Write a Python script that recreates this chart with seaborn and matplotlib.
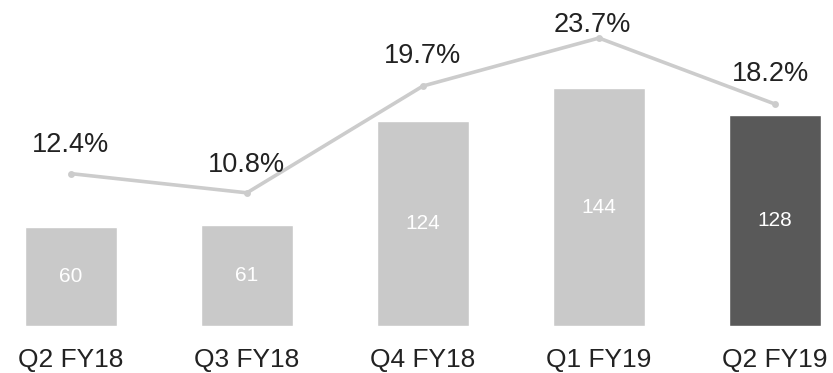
import matplotlib
matplotlib.use("Agg")
import matplotlib.pyplot as plt
import seaborn as sns
import numpy as np
import pandas as pd

quarters = ["Q2 FY18", "Q3 FY18", "Q4 FY18", "Q1 FY19", "Q2 FY19"]
bar_values = [60, 61, 124, 144, 128]
margin_pct = [12.4, 10.8, 19.7, 23.7, 18.2]
bar_colors = ["#c9c9c9", "#c9c9c9", "#c9c9c9", "#c9c9c9", "#595959"]
# label offsets (points) for the percentage annotations
pct_offsets = [(0, 11), (0, 11), (0, 12), (-5, 0), (-3, 12)]

sns.set_theme(style="white")
plt.rcParams["font.family"] = ["Liberation Sans", "DejaVu Sans"]

df = pd.DataFrame({"quarter": quarters, "value": bar_values, "pct": margin_pct})

fig = plt.figure(figsize=(8.33, 3.73), dpi=100)
ax = fig.add_axes([0.0, 0.126, 1.0, 0.874])

sns.barplot(data=df, x="quarter", y="value", hue="quarter", palette=bar_colors,
            legend=False, width=0.52, ax=ax, saturation=1)
ax.set_ylim(0, 197.6)
ax.set_xlim(-0.403, 4.33)

for b, v in zip(ax.patches, bar_values):
    ax.text(b.get_x() + b.get_width() / 2, v / 2, str(v), ha="center", va="center",
            color="white", fontsize=15)

ax2 = ax.twinx()
sns.pointplot(data=df, x="quarter", y="pct", color="#cccccc", markers="o",
              markersize=3, linewidth=2.6, ax=ax2)
ax2.set_ylim(-0.3, 26.87)
ax2.set_xlim(-0.403, 4.33)
for i, (p, off) in enumerate(zip(margin_pct, pct_offsets)):
    ax2.annotate(f"{p}%", (i, p), xytext=off, textcoords="offset points",
                 ha="center", va="bottom", fontsize=19.5, color="#222222")

for a in (ax, ax2):
    a.set_xlabel("")
    a.set_ylabel("")
    a.set_yticks([])
    for s in a.spines.values():
        s.set_visible(False)
ax.tick_params(axis="x", length=0, pad=16, labelsize=19, labelcolor="#222222")
ax2.tick_params(axis="x", length=0)

fig.savefig("out.png", dpi=100)
